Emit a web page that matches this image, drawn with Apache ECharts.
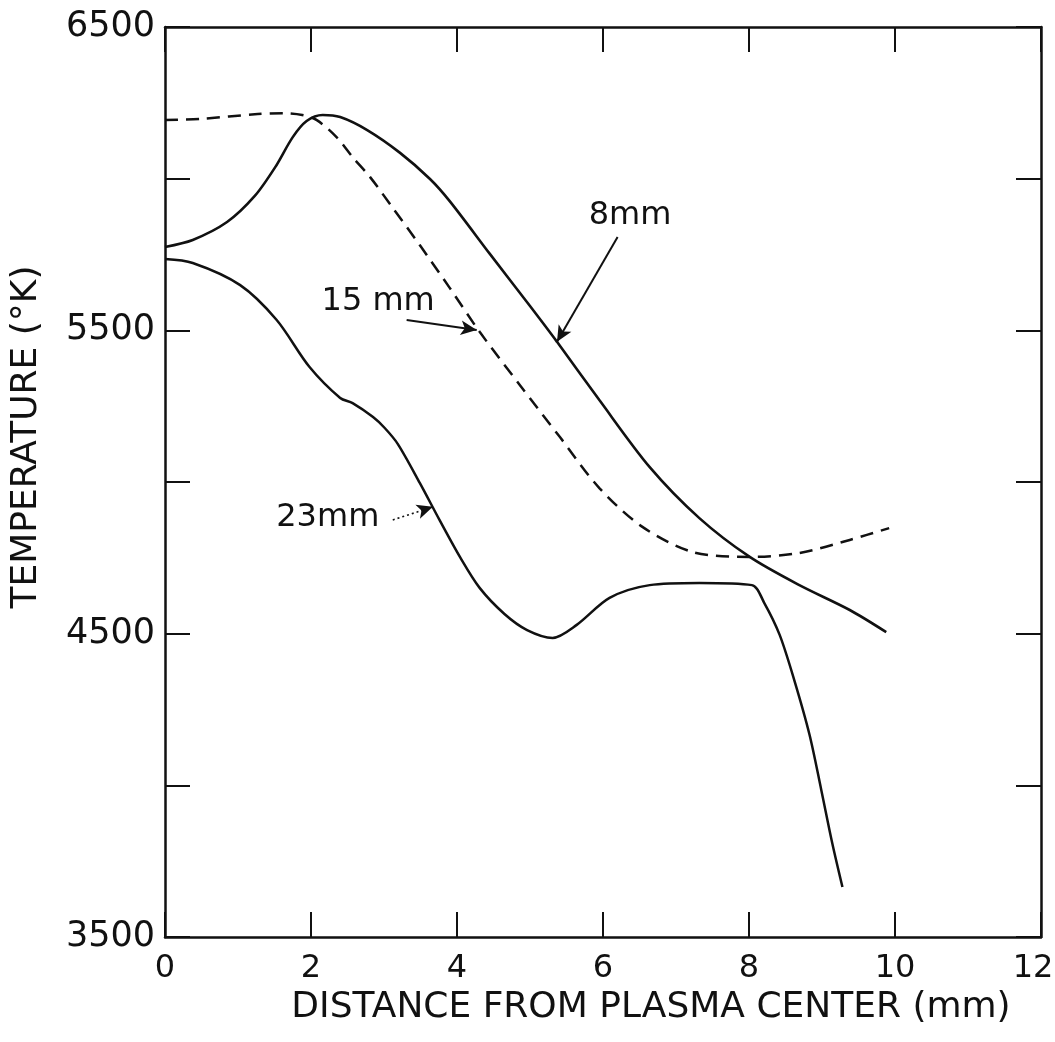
<!DOCTYPE html>
<html>
<head>
<meta charset="utf-8">
<script src="https://cdn.jsdelivr.net/npm/echarts@6/dist/echarts.min.js"></script>
<style>
  html, body { margin: 0; padding: 0; background: #fff; overflow: hidden; }
  #chart { width: 1055px; height: 1042px; }
</style>
</head>
<body>
<div id="chart"></div>
<script>
// Radial temperature profiles at three heights above the electrode
const distance8mm = [0, 0.38, 0.85, 1.23, 1.51, 1.75, 1.94, 2.16, 2.40, 2.77, 3.22, 3.63, 3.90, 4.45, 5.00, 5.37, 5.95, 6.64, 7.32, 8.01, 8.69, 9.38, 9.88];
const temp8mm     = [5775, 5798, 5857, 5943, 6038, 6137, 6190, 6210, 6203, 6160, 6085, 5999, 5926, 5752, 5580, 5462, 5270, 5049, 4881, 4753, 4660, 4578, 4505];

const distance15mm = [0, 0.48, 1.27, 1.62, 1.88, 2.08, 2.35, 2.57, 2.81, 3.11, 3.49, 3.90, 4.31, 4.86, 5.41, 5.95, 6.54, 7.23, 8.01, 8.69, 9.38, 9.92];
const temp15mm     = [6193, 6197, 6213, 6216, 6210, 6193, 6137, 6071, 6005, 5907, 5781, 5640, 5495, 5320, 5148, 4980, 4852, 4769, 4753, 4766, 4809, 4848];

const distance23mm = [0, 0.38, 1.03, 1.53, 1.98, 2.40, 2.57, 2.85, 3.01, 3.19, 3.49, 3.76, 4.04, 4.31, 4.65, 4.96, 5.31, 5.64, 6.09, 6.64, 7.32, 8.04, 8.21, 8.42, 8.62, 8.83, 8.99, 9.14, 9.28];
const temp23mm     = [5735, 5722, 5649, 5534, 5379, 5277, 5260, 5214, 5178, 5125, 4997, 4875, 4753, 4651, 4565, 4512, 4486, 4529, 4618, 4660, 4667, 4660, 4601, 4496, 4347, 4166, 3985, 3810, 3665];

const xTickValues = [0, 2, 4, 6, 8, 10, 12];
const yTickLabels = ['3500', '4500', '5500', '6500'];

const seriesNames = ['8mm', '15 mm', '23mm'];

function pairs(xs, ys) { return xs.map((x, i) => [x, ys[i]]); }

const FONT = 'DejaVu Sans';
const INK = '#111';

const chart = echarts.init(document.getElementById('chart'), null, { renderer: 'canvas' });

const tickStyle = { show: true, inside: true, length: 25, lineStyle: { color: INK, width: 2 } };
const lineStyleAxis = { show: true, onZero: false, lineStyle: { color: INK, width: 2.5 } };

const arrowLine = (from, to, extra) => ({
  silent: true,
  symbol: ['none', 'arrow'],
  symbolSize: [11, 16],
  label: { show: false },
  emphasis: { disabled: true },
  animation: false,
  lineStyle: Object.assign({ color: INK, width: 2, type: 'solid' }, extra || {}),
  data: [[{ coord: from }, { coord: to }]]
});

const lastX = xTickValues[xTickValues.length - 1];

const option = {
  animation: false,
  backgroundColor: '#fff',
  grid: { left: 165, right: 14, top: 27, bottom: 105, containLabel: false, outerBoundsMode: 'none' },
  xAxis: [{
    type: 'value', min: 0, max: 12, interval: 2,
    axisLine: lineStyleAxis, axisTick: tickStyle, splitLine: { show: false },
    axisLabel: {
      color: INK, fontFamily: FONT, fontSize: 32, margin: 16,
      formatter: v => {
        if (!xTickValues.includes(v)) return '';
        // the last label sits just inside the frame edge
        return v === lastX ? '{edge|' + v + '}' : String(v);
      },
      rich: { edge: { fontFamily: FONT, fontSize: 32, color: INK, padding: [0, 16, 0, 0] } }
    },
    name: 'DISTANCE FROM PLASMA CENTER (mm)',
    nameLocation: 'middle', nameGap: 50,
    nameTextStyle: { color: INK, fontFamily: FONT, fontSize: 36, padding: [0, 0, 0, 96] }
  }, {
    type: 'value', min: 0, max: 12, interval: 2, position: 'top',
    axisLine: lineStyleAxis, axisTick: tickStyle, splitLine: { show: false },
    axisLabel: { show: false }
  }],
  yAxis: [{
    type: 'value', min: 3500, max: 6500, interval: 500,
    axisLine: lineStyleAxis, axisTick: tickStyle, splitLine: { show: false },
    axisLabel: {
      color: INK, fontFamily: FONT, fontSize: 35, margin: 10,
      formatter: v => yTickLabels.includes(String(v)) ? String(v) : ''
    },
    name: 'TEMPERATURE (°K)',
    nameLocation: 'middle', nameGap: 120, nameRotate: 90,
    nameTextStyle: { color: INK, fontFamily: FONT, fontSize: 36, padding: [0, 0, 0, 90] }
  }, {
    type: 'value', min: 3500, max: 6500, interval: 500, position: 'right',
    axisLine: lineStyleAxis, axisTick: tickStyle, splitLine: { show: false },
    axisLabel: { show: false }
  }],
  series: [{
    name: seriesNames[0], type: 'line', smooth: 0.3, showSymbol: false,
    data: pairs(distance8mm, temp8mm),
    lineStyle: { color: INK, width: 2.6 },
    markLine: arrowLine([6.20, 5808], [5.37, 5462], { curveness: -0.05 })
  }, {
    name: seriesNames[1], type: 'line', smooth: 0.3, showSymbol: false,
    data: pairs(distance15mm, temp15mm),
    lineStyle: { color: INK, width: 2.5, type: [13, 8] },
    markLine: arrowLine([3.31, 5534], [4.27, 5501], { curveness: 0.15 })
  }, {
    name: seriesNames[2], type: 'line', smooth: 0.3, showSymbol: false,
    data: pairs(distance23mm, temp23mm),
    lineStyle: { color: INK, width: 2.5 },
    markLine: arrowLine([3.12, 4875], [3.67, 4918], { type: [2, 3], width: 1.6 })
  }]
};

chart.setOption(option);

// Curve labels placed in data coordinates
const curveLabels = [
  { text: seriesNames[0], at: [6.37, 5877] },
  { text: seriesNames[1], at: [2.92, 5593] },
  { text: seriesNames[2], at: [2.23, 4881] }
];
chart.setOption({
  graphic: curveLabels.map(l => {
    const p = chart.convertToPixel({ xAxisIndex: 0, yAxisIndex: 0 }, l.at);
    return {
      type: 'text', x: p[0], y: p[1], silent: true,
      style: { text: l.text, fill: INK, font: '32px "' + FONT + '"', align: 'center', verticalAlign: 'middle' }
    };
  })
});
</script>
</body>
</html>
